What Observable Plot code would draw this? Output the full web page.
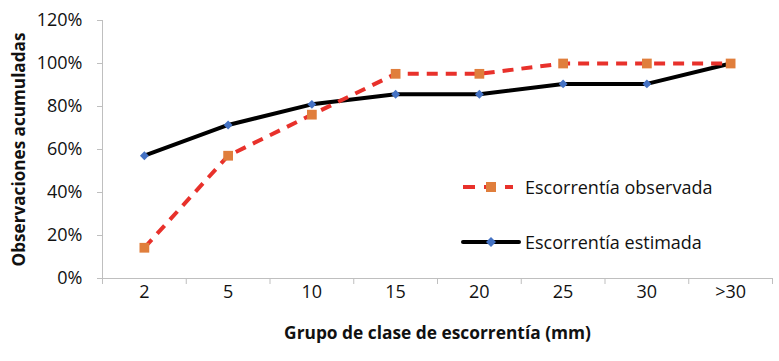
<!DOCTYPE html>
<html><head><meta charset="utf-8">
<script src="https://cdn.jsdelivr.net/npm/d3@7"></script>
<script src="https://cdn.jsdelivr.net/npm/@observablehq/plot@0.6"></script>
<style>
body{margin:0;background:#fff;}
#wrap{position:relative;width:779px;height:361px;font-family:"Open Sans",sans-serif;}
#legend{position:absolute;left:461px;top:173px;font-size:18px;color:#111;}
#legend .row{display:flex;align-items:center;height:28px;}
#legend .row + .row{margin-top:27px;}
#legend svg{margin-right:4px;}
</style></head><body><div id="wrap"></div>
<script>
const categories = ["2","5","10","15","20","25","30",">30"];
const observada = [0.143, 0.571, 0.762, 0.952, 0.952, 1.0, 1.0, 1.0];
const estimada = [0.571, 0.714, 0.810, 0.857, 0.857, 0.905, 0.905, 1.0];
const yTicks = [0, 0.2, 0.4, 0.6, 0.8, 1.0, 1.2];
const seriesNames = ["Escorrentía observada", "Escorrentía estimada"];
const xLabel = "Grupo de clase de escorrentía (mm)";
const yLabel = "Observaciones acumuladas";

const obsData = categories.map((c, i) => ({i: i + 0.5, v: observada[i]}));
const estData = categories.map((c, i) => ({i: i + 0.5, v: estimada[i]}));
const bounds = d3.range(categories.length + 1);
const centers = categories.map((c, i) => i + 0.5);

const chart = Plot.plot({
  width: 779, height: 361,
  marginLeft: 102, marginRight: 7, marginTop: 20, marginBottom: 83,
  style: {fontFamily: "'Open Sans', sans-serif", fontSize: "18px", color: "#111", background: "#fff"},
  x: {domain: [0, categories.length]},
  y: {domain: [0, 1.2]},
  marks: [
    Plot.axisX({ticks: bounds, tickFormat: () => "", tickSize: 6, stroke: "#bfbfbf", label: null}),
    Plot.axisX({ticks: centers, tickSize: 0, tickPadding: 7, fontSize: 18, tickFormat: d => categories[Math.round(d - 0.5)], label: null}),
    Plot.axisX({ticks: [], label: xLabel, labelAnchor: "center", labelArrow: "none", labelOffset: 60, fontSize: 17.5, fontWeight: "bold"}),
    Plot.axisY({ticks: yTicks, tickFormat: d3.format(".0%"), tickSize: 5, tickPadding: 15, fontSize: 18, stroke: "#bfbfbf", label: null}),
    Plot.axisY({ticks: [], label: yLabel, labelAnchor: "center", labelArrow: "none", labelOffset: 90, fontSize: 16, fontWeight: "bold"}),
    Plot.ruleX([0], {stroke: "#bfbfbf"}),
    Plot.ruleY([0], {stroke: "#bfbfbf"}),
    Plot.line(estData, {x: "i", y: "v", stroke: "#000", strokeWidth: 4, strokeLinejoin: "round", strokeLinecap: "round"}),
    Plot.dot(estData, {x: "i", y: "v", symbol: "diamond2", r: 4, fill: "#4472c4", stroke: "none"}),
    Plot.line(obsData, {x: "i", y: "v", stroke: "#e8312b", strokeWidth: 4, strokeDasharray: "11,8", strokeLinecap: "butt"}),
    Plot.dot(obsData, {x: "i", y: "v", symbol: "square", r: 5.5, fill: "#e07e3c", stroke: "none"})
  ]
});
const wrap = document.getElementById("wrap");
wrap.appendChild(chart);

// fit axis titles to the widths they take in the reference
function fit(label, target) {
  const t = chart.querySelector(`g[aria-label="${label}"] text`);
  if (!t) return;
  const w = t.getComputedTextLength();
  const fs = parseFloat(getComputedStyle(t).fontSize);
  if (w > 0 && fs > 0) t.style.fontSize = (fs * target / w).toFixed(2) + "px";
}
fit("x-axis label", 307);
fit("y-axis label", 234);

const legend = document.createElement("div");
legend.id = "legend";
legend.innerHTML = `
<div class="row"><svg width="60" height="14"><line x1="2" y1="7" x2="52" y2="7" stroke="#e8312b" stroke-width="4" stroke-dasharray="12,9"/><rect x="25" y="2" width="10" height="10" fill="#e07e3c"/></svg><span>${seriesNames[0]}</span></div>
<div class="row"><svg width="60" height="14"><line x1="2" y1="7" x2="58" y2="7" stroke="#000" stroke-width="4" stroke-linecap="round"/><path d="M30,2 L35,7 L30,12 L25,7Z" fill="#4472c4"/></svg><span>${seriesNames[1]}</span></div>`;
wrap.appendChild(legend);
</script></body></html>
